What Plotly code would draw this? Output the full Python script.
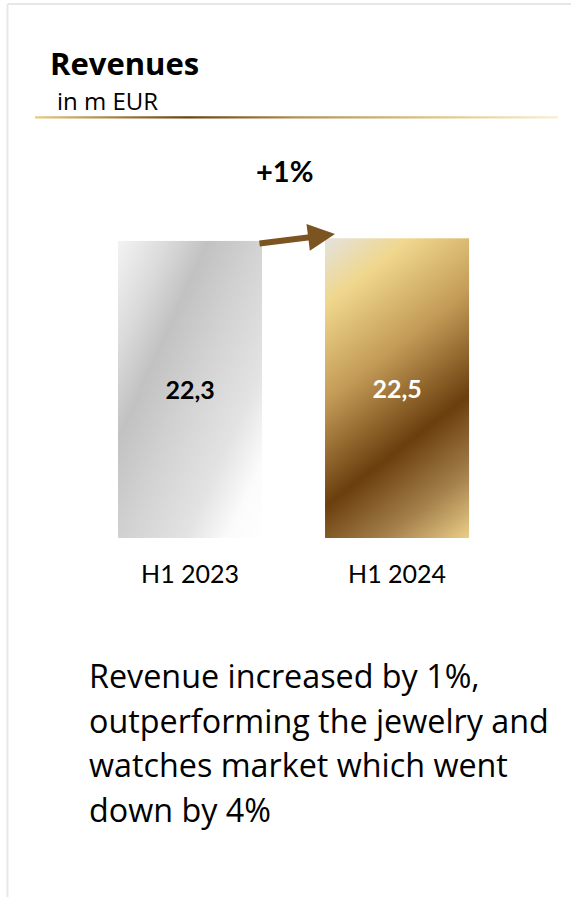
import numpy as np
import plotly.graph_objects as go

# ---- data -------------------------------------------------------------
categories = ["H1 2023", "H1 2024"]
revenues = [22.3, 22.5]          # m EUR
growth_label = "+1%"
title = "Revenues"
unit = "in m EUR"
comment_lines = [
    "Revenue increased by 1%,",
    "outperforming the jewelry and",
    "watches market which went",
    "down by 4%",
]

# ---- page geometry ------------------------------------------------------
W, H = 571, 897
FONT = "Lato"
TEXT_FONT = "Open Sans"
X_RANGE = [-0.918, 1.840]
Y_DOMAIN_BOTTOM = 359 / H           # baseline of the bars on the page
Y_RANGE = [0, 40.39]
BAR_WIDTH = 0.696

px_per_x = W / (X_RANGE[1] - X_RANGE[0])
px_per_y = H * (1 - Y_DOMAIN_BOTTOM) / (Y_RANGE[1] - Y_RANGE[0])

silver_scale = [
    [0.00, "#f3f3f3"], [0.18, "#dadada"], [0.32, "#c2c2c2"],
    [0.50, "#d2d2d2"], [0.72, "#e3e3e3"], [0.87, "#fbfbfb"], [1.00, "#ffffff"],
]
gold_scale = [
    [0.00, "#e4e2de"], [0.16, "#f0d78d"], [0.40, "#c29a56"],
    [0.65, "#6b3f0e"], [0.84, "#a6824d"], [1.00, "#ecd08a"],
]
rule_scale = [
    [0.00, "#e9cb7e"], [0.29, "#6b400f"], [0.50, "#b38f50"],
    [0.75, "#dcc27f"], [1.00, "#f8eed3"],
]


def shaded_bar(xc, value, colorscale, direction):
    """Diagonal metallic shading filling the rectangle of one bar."""
    nx, ny = 48, 96
    xe = np.linspace(xc - BAR_WIDTH / 2, xc + BAR_WIDTH / 2, nx + 1)
    ye = np.linspace(0, value, ny + 1)
    xm = (xe[:-1] + xe[1:]) / 2
    ym = (ye[:-1] + ye[1:]) / 2
    gx = (xm - xe[0]) * px_per_x            # pixels from the left edge
    gy = (value - ym) * px_per_y            # pixels from the top edge
    dx, dy = direction
    norm = np.hypot(dx, dy)
    dx, dy = dx / norm, dy / norm
    p = gy[:, None] * dy + gx[None, :] * dx
    pmax = (xe[-1] - xe[0]) * px_per_x * dx + value * px_per_y * dy
    return go.Heatmap(
        x=xe, y=ye, z=p / pmax, zmin=0, zmax=1,
        colorscale=colorscale, showscale=False, zsmooth="best",
        hoverinfo="skip",
    )


fig = go.Figure()
fig.add_trace(shaded_bar(0, revenues[0], silver_scale, (196, 89)))
fig.add_trace(shaded_bar(1, revenues[1], gold_scale, (111, 144)))

fig.add_trace(go.Bar(
    x=[0, 1], y=revenues, width=BAR_WIDTH,
    marker=dict(color="rgba(0,0,0,0)", line=dict(width=0)),
    texttemplate="%{y:.1f}", textposition="inside", insidetextanchor="middle",
    textangle=0, constraintext="none",
    textfont=dict(family=FONT, size=25, weight="bold", color=["#000000", "#ffffff"]),
    hoverinfo="skip",
))

# gold rule under the heading, on a pixel-scaled page axis pair
fig.add_trace(go.Scatter(
    x=[35, 558, 558, 35, 35], y=[116.3, 116.3, 118.4, 118.4, 116.3],
    xaxis="x2", yaxis="y2", mode="lines", line=dict(width=0),
    fill="toself", fillgradient=dict(type="horizontal", colorscale=rule_scale),
    hoverinfo="skip",
))

ann = []


def page_text(text, x, y, size, bold=False, xanchor="left", family=TEXT_FONT):
    ann.append(dict(
        text=text, x=x / W, y=1 - y / H, xref="paper", yref="paper",
        xanchor=xanchor, yanchor="middle", showarrow=False, borderpad=0,
        font=dict(family=family, size=size, color="#000000",
                  weight="bold" if bold else "normal"),
    ))


page_text(title, 49, 63, 31, bold=True)
page_text(unit, 56, 100, 24)
page_text(growth_label, 284, 171, 29, bold=True, xanchor="center", family=FONT)
for i, line in enumerate(comment_lines):
    page_text(line, 88, 675 + 44.5 * i, 32.3)

# growth arrow from the first bar's top toward the second bar's top
ann.append(dict(
    x=0.70, y=revenues[1] + 0.32, ax=0.328, ay=revenues[0] - 0.2,
    xref="x", yref="y", axref="x", ayref="y", text="", showarrow=True,
    arrowhead=2, arrowwidth=6, arrowsize=0.9, arrowcolor="#7b5421", standoff=0,
))

frame = "#e7e7e7"
shapes = [
    dict(type="line", xref="paper", yref="paper", x0=7.5 / W, x1=7.5 / W,
         y0=1 - 4 / H, y1=0, line=dict(color=frame, width=2)),
    dict(type="line", xref="paper", yref="paper", x0=7.5 / W, x1=1,
         y0=1 - 4 / H, y1=1 - 4 / H, line=dict(color=frame, width=2)),
]

fig.update_layout(
    width=W, height=H, margin=dict(l=0, r=0, t=0, b=0),
    paper_bgcolor="#ffffff", plot_bgcolor="rgba(0,0,0,0)",
    showlegend=False, separators=",.", annotations=ann, shapes=shapes,
    xaxis=dict(range=X_RANGE, domain=[0, 1], showgrid=False, zeroline=False,
               showline=False, tickmode="array", tickvals=[0, 1], ticktext=categories,
               ticks="", ticklabelstandoff=19,
               tickfont=dict(family=FONT, size=25, color="#000000"), fixedrange=True),
    yaxis=dict(range=Y_RANGE, domain=[Y_DOMAIN_BOTTOM, 1], visible=False, fixedrange=True),
    xaxis2=dict(range=[0, W], domain=[0, 1], anchor="y2", visible=False, fixedrange=True),
    yaxis2=dict(range=[H, 0], domain=[0, 1], anchor="x2", visible=False, fixedrange=True),
    font=dict(family=FONT),
)

fig.write_html("out.html", config=dict(displayModeBar=False))
